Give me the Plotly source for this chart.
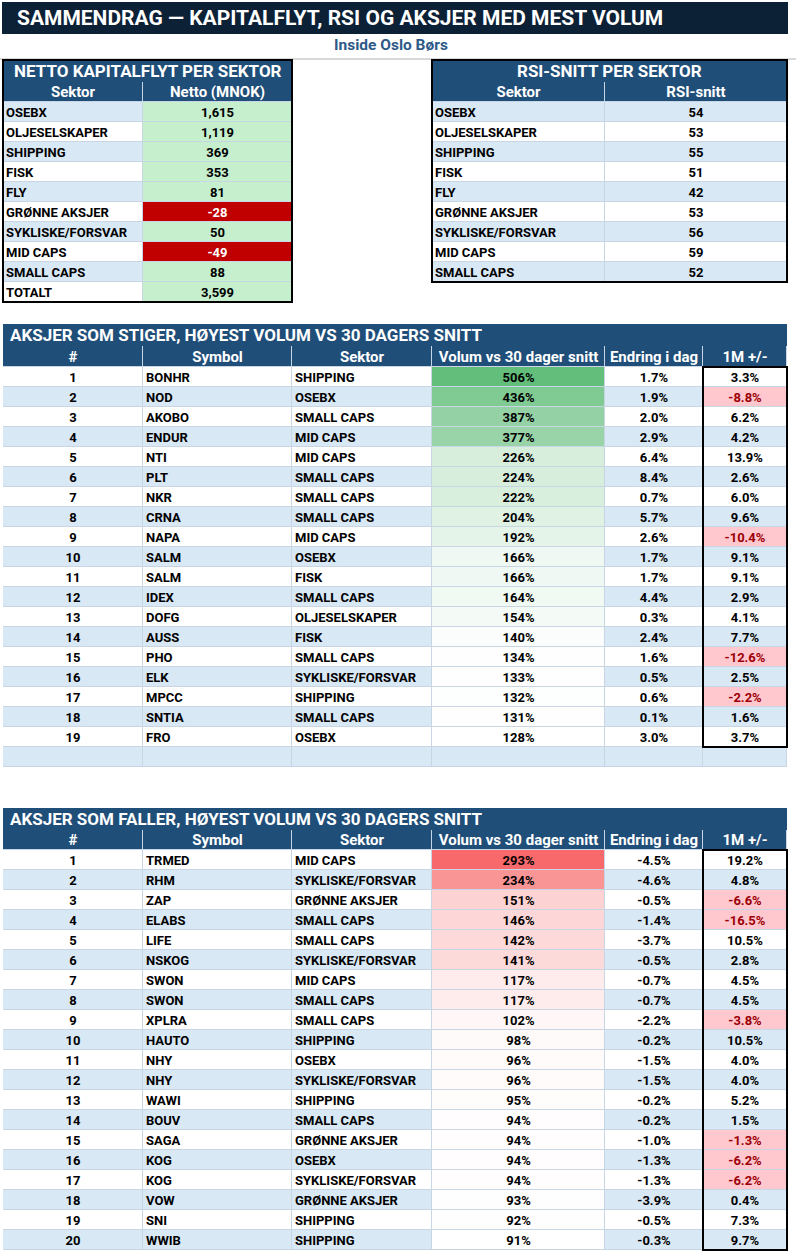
import plotly.graph_objects as go

W, H = 796, 1257

# ---- data -------------------------------------------------------------
flow_sectors = ["OSEBX", "OLJESELSKAPER", "SHIPPING", "FISK", "FLY", "GRØNNE AKSJER",
                "SYKLISKE/FORSVAR", "MID CAPS", "SMALL CAPS", "TOTALT"]
flow_netto = [1615, 1119, 369, 353, 81, -28, 50, -49, 88, 3599]

rsi_sectors = ["OSEBX", "OLJESELSKAPER", "SHIPPING", "FISK", "FLY", "GRØNNE AKSJER",
               "SYKLISKE/FORSVAR", "MID CAPS", "SMALL CAPS"]
rsi_values = [54, 53, 55, 51, 42, 53, 56, 59, 52]

up_symbols = ["BONHR", "NOD", "AKOBO", "ENDUR", "NTI", "PLT", "NKR", "CRNA", "NAPA", "SALM",
              "SALM", "IDEX", "DOFG", "AUSS", "PHO", "ELK", "MPCC", "SNTIA", "FRO"]
up_sectors = ["SHIPPING", "OSEBX", "SMALL CAPS", "MID CAPS", "MID CAPS", "SMALL CAPS",
              "SMALL CAPS", "SMALL CAPS", "MID CAPS", "OSEBX", "FISK", "SMALL CAPS",
              "OLJESELSKAPER", "FISK", "SMALL CAPS", "SYKLISKE/FORSVAR", "SHIPPING",
              "SMALL CAPS", "OSEBX"]
up_volume = [506, 436, 387, 377, 226, 224, 222, 204, 192, 166, 166, 164, 154, 140, 134,
             133, 132, 131, 128]
up_today = [1.7, 1.9, 2.0, 2.9, 6.4, 8.4, 0.7, 5.7, 2.6, 1.7, 1.7, 4.4, 0.3, 2.4, 1.6,
            0.5, 0.6, 0.1, 3.0]
up_1m = [3.3, -8.8, 6.2, 4.2, 13.9, 2.6, 6.0, 9.6, -10.4, 9.1, 9.1, 2.9, 4.1, 7.7, -12.6,
         2.5, -2.2, 1.6, 3.7]

down_symbols = ["TRMED", "RHM", "ZAP", "ELABS", "LIFE", "NSKOG", "SWON", "SWON", "XPLRA",
                "HAUTO", "NHY", "NHY", "WAWI", "BOUV", "SAGA", "KOG", "KOG", "VOW", "SNI",
                "WWIB"]
down_sectors = ["MID CAPS", "SYKLISKE/FORSVAR", "GRØNNE AKSJER", "SMALL CAPS", "SMALL CAPS",
                "SYKLISKE/FORSVAR", "MID CAPS", "SMALL CAPS", "SMALL CAPS", "SHIPPING",
                "OSEBX", "SYKLISKE/FORSVAR", "SHIPPING", "SMALL CAPS", "GRØNNE AKSJER",
                "OSEBX", "SYKLISKE/FORSVAR", "GRØNNE AKSJER", "SHIPPING", "SHIPPING"]
down_volume = [293, 234, 151, 146, 142, 141, 117, 117, 102, 98, 96, 96, 95, 94, 94, 94, 94,
               93, 92, 91]
down_today = [-4.5, -4.6, -0.5, -1.4, -3.7, -0.5, -0.7, -0.7, -2.2, -0.2, -1.5, -1.5, -0.2,
              -0.2, -1.0, -1.3, -1.3, -3.9, -0.5, -0.3]
down_1m = [19.2, 4.8, -6.6, -16.5, 10.5, 2.8, 4.5, 4.5, -3.8, 10.5, 4.0, 4.0, 5.2, 1.5, -1.3,
           -6.2, -6.2, 0.4, 7.3, 9.7]

flow_headers = ["Sektor", "Netto (MNOK)"]
rsi_headers = ["Sektor", "RSI-snitt"]
stock_headers = ["#", "Symbol", "Sektor", "Volum vs 30 dager snitt", "Endring i dag", "1M +/-"]

# ---- styles -----------------------------------------------------------
NAVY = "#0c2036"
BLUE = "#1f4e79"
LIGHT = "#d9e8f5"
GRID = "#c8d5e4"
GREEN_CELL = "#c6efce"
RED_CELL = "#c00000"
PINK = "#ffc7ce"
PINK_TXT = "#9c0006"
FONT = "Roboto"
ROW_H = 20

fig = go.Figure()
shapes = []
annots = []


def stripes(n, first_light):
    return [LIGHT if (i % 2 == 0) == first_light else "white" for i in range(n)]


def scale(vals, rgb):
    # sheet-style colour scale: white at min -> rgb at max
    lo, hi = min(vals), max(vals)
    out = []
    for v in vals:
        t = (v - lo) / (hi - lo)
        out.append("rgb(%d,%d,%d)" % tuple(round(255 + (k - 255) * t) for k in rgb))
    return out


def rect(x0, x1, y0, y1, fill, line=None, layer="below"):
    shapes.append(dict(type="rect", xref="x", yref="y", x0=x0, x1=x1, y0=y0, y1=y1,
                       fillcolor=fill, line=line or dict(width=0), layer=layer))


def title_bar(x0, x1, y0, y1, text, color, size, center=False, pad=5):
    rect(x0, x1, y0, y1, color)
    annots.append(dict(x=(x0 + x1) / 2 if center else x0 + pad, y=(y0 + y1) / 2,
                       xref="x", yref="y", text="<b>%s</b>" % text, showarrow=False,
                       xanchor="center" if center else "left", yanchor="middle",
                       font=dict(family=FONT, size=size, color="white")))


def draw_grid(x0, y0, widths, heights, colors):
    # cell backgrounds as a heatmap with bin edges; gaps show the grid colour
    xe = [x0]
    for w in widths:
        xe.append(xe[-1] + w)
    ye = [y0]
    for h in heights:
        ye.append(ye[-1] + h)
    palette = sorted(set(c for row in colors for c in row))
    if len(palette) == 1:
        palette = palette * 2
    z = [[palette.index(c) for c in row] for row in colors]
    cs = [[i / (len(palette) - 1), c] for i, c in enumerate(palette)]
    rect(xe[0], xe[-1], ye[0], ye[-1], GRID)
    fig.add_trace(go.Heatmap(x=xe, y=ye, z=z, colorscale=cs, zmin=0, zmax=len(palette) - 1,
                             showscale=False, xgap=1, ygap=1, hoverinfo="skip"))
    return xe, ye


def draw_text(xe, ye, rows, aligns, size, colors, row0=0, pad=3, dy=2):
    xs, ys, ts, cs, ps = [], [], [], [], []
    for r, row in enumerate(rows):
        for c, val in enumerate(row):
            if val == "":
                continue
            if aligns[c] == "left":
                xs.append(xe[c] + pad)
                ps.append("middle right")
            else:
                xs.append((xe[c] + xe[c + 1]) / 2)
                ps.append("middle center")
            ys.append((ye[row0 + r] + ye[row0 + r + 1]) / 2 + dy)
            ts.append("<b>%s</b>" % val)
            cs.append(colors[r][c])
    fig.add_trace(go.Scatter(x=xs, y=ys, text=ts, mode="text", textposition=ps,
                             textfont=dict(family=FONT, size=size, color=cs),
                             hoverinfo="skip"))


def table(x0, y0, head_h, widths, headers, cols, fills, fonts, aligns):
    # cols / fills / fonts are column-major lists
    n = len(cols[0])
    colors = [[BLUE] * len(widths)] + [list(r) for r in zip(*fills)]
    xe, ye = draw_grid(x0, y0, widths, [head_h] + [ROW_H] * n, colors)
    draw_text(xe, ye, [headers], ["center"] * len(headers), 15,
              [["white"] * len(headers)], dy=1.5)
    draw_text(xe, ye, [list(r) for r in zip(*cols)], aligns, 13,
              [list(r) for r in zip(*fonts)], row0=1)
    return xe, ye


# ---- main title -------------------------------------------------------
title_bar(2, 788, 2, 34, "SAMMENDRAG — KAPITALFLYT, RSI OG AKSJER MED MEST VOLUM", NAVY, 21,
          pad=13)
annots.append(dict(x=391, y=45, xref="x", yref="y", text="<b>Inside Oslo Børs</b>",
                   showarrow=False, font=dict(family=FONT, size=15.5, color="#2e5a88")))
shapes.append(dict(type="line", xref="x", yref="y", x0=0, x1=W, y0=59, y1=59,
                   line=dict(color="#b4b4b4", width=1)))

# ---- netto kapitalflyt ------------------------------------------------
n = len(flow_sectors)
title_bar(3, 292, 60, 82, "NETTO KAPITALFLYT PER SEKTOR", BLUE, 17, center=True)
flow_fill = [RED_CELL if v < 0 else GREEN_CELL for v in flow_netto]
flow_font = ["white" if v < 0 else "black" for v in flow_netto]
xe, ye = table(3, 82, 20, [140, 149], flow_headers,
               [flow_sectors, ["{:,}".format(v) for v in flow_netto]],
               [stripes(n, True), flow_fill], [["black"] * n, flow_font],
               ["left", "center"])
rect(xe[0], xe[-1], 60, ye[-1], "rgba(0,0,0,0)", dict(color="black", width=2), "above")

# ---- RSI --------------------------------------------------------------
n = len(rsi_sectors)
title_bar(432, 787, 60, 82, "RSI-SNITT PER SEKTOR", BLUE, 17, center=True)
xe, ye = table(432, 82, 20, [173, 182], rsi_headers, [rsi_sectors, rsi_values],
               [stripes(n, True)] * 2, [["black"] * n] * 2, ["left", "center"])
rect(xe[0], xe[-1], 60, ye[-1], "rgba(0,0,0,0)", dict(color="black", width=2), "above")

# ---- stigende / fallende ----------------------------------------------
widths = [140, 149, 140, 173, 98, 84]
aligns = ["center", "left", "left", "center", "center", "center"]


def stock_table(y0, head_h, title, symbols, sectors, volume, today, m1, rgb, pad_rows):
    title_bar(3, 787, y0, y0 + 22, title, BLUE, 17)
    n = len(symbols)
    total = n + pad_rows
    rows = stripes(total, False)
    blank = [""] * pad_rows
    vol_fill = scale(volume, rgb) + rows[n:]
    m1_fill = [PINK if v < 0 else c for v, c in zip(m1, rows)] + rows[n:]
    m1_font = [PINK_TXT if v < 0 else "black" for v in m1] + ["black"] * pad_rows
    cols = [[str(i + 1) for i in range(n)] + blank, symbols + blank, sectors + blank,
            ["%d%%" % v for v in volume] + blank, ["%.1f%%" % v for v in today] + blank,
            ["%.1f%%" % v for v in m1] + blank]
    fills = [rows, rows, rows, vol_fill, rows, m1_fill]
    fonts = [["black"] * total] * 5 + [m1_font]
    xe, ye = table(3, y0 + 22, head_h, widths, stock_headers, cols, fills, fonts, aligns)
    rect(xe[5], xe[6], ye[1], ye[1 + n], "rgba(0,0,0,0)", dict(color="black", width=2),
         "above")


stock_table(324, 21, "AKSJER SOM STIGER, HØYEST VOLUM VS 30 DAGERS SNITT", up_symbols,
            up_sectors, up_volume, up_today, up_1m, (99, 190, 123), 1)
stock_table(808, 20, "AKSJER SOM FALLER, HØYEST VOLUM VS 30 DAGERS SNITT", down_symbols,
            down_sectors, down_volume, down_today, down_1m, (248, 105, 107), 0)

fig.update_layout(width=W, height=H, margin=dict(l=0, r=0, t=0, b=0, pad=0),
                  paper_bgcolor="white", plot_bgcolor="white",
                  xaxis=dict(range=[0, W], visible=False, fixedrange=True),
                  yaxis=dict(range=[H, 0], visible=False, fixedrange=True),
                  shapes=shapes, annotations=annots, showlegend=False)
fig.write_html("out.html", config={"displayModeBar": False},
               post_script="document.body.style.margin='0px';")
